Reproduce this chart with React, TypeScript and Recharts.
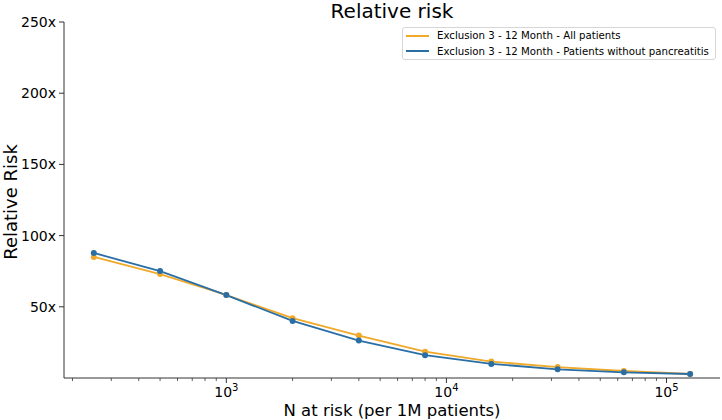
import { LineChart, Line, XAxis, YAxis, Label } from "recharts"

const nAtRisk = [250, 500, 1000, 2000, 4000, 8000, 16000, 32000, 64000, 128000]
const allPatients = [85.0, 73.0, 58.3, 42.0, 29.8, 18.5, 11.5, 7.7, 4.9, 2.8]
const withoutPancreatitis = [87.8, 75.1, 58.2, 40.1, 26.3, 16.0, 9.9, 6.1, 4.0, 2.8]

const majorTicks = [1000, 10000, 100000]
const minorTicks = [
  200, 300, 400, 500, 600, 700, 800, 900,
  2000, 3000, 4000, 5000, 6000, 7000, 8000, 9000,
  20000, 30000, 40000, 50000, 60000, 70000, 80000, 90000,
]
const yTicks = [50, 100, 150, 200, 250]

const data = nAtRisk.map((n, i) => ({
  n,
  all: allPatients[i],
  noPanc: withoutPancreatitis[i],
}))

const FONT = "'DejaVu Sans', sans-serif"
const ORANGE = "#f0a928"
const BLUE = "#2a6ea6"
const SPINE = "#333"

function XTick(props: any) {
  const { x, y, payload } = props
  const major = majorTicks.includes(payload.value)
  const exp = Math.round(Math.log10(payload.value))
  return (
    <g>
      <line x1={x} x2={x} y1={y} y2={y + (major ? 5 : 3)} stroke={SPINE} strokeWidth={major ? 1 : 0.8} />
      {major && (
        <text x={x} y={y + 19} textAnchor="middle" fontSize={14} fill="#000" fontFamily={FONT}>
          10<tspan dy={-6} fontSize={10}>{exp}</tspan>
        </text>
      )}
    </g>
  )
}

export default function App() {
  const xTickValues = [...minorTicks, ...majorTicks].sort((a, b) => a - b)
  return (
    <div style={{ position: "absolute", left: 0, top: 0, width: 722, height: 420, background: "#fff", fontFamily: FONT }}>
      <div style={{ position: "absolute", left: 64, top: 1, width: 656, textAlign: "center", fontSize: 20, lineHeight: "20px", color: "#000" }}>
        Relative risk
      </div>
      <LineChart width={722} height={420} data={data} margin={{ top: 22, right: 2, left: 0, bottom: 0 }}>
        <XAxis
          dataKey="n"
          type="number"
          scale="log"
          domain={[183, 175000]}
          ticks={xTickValues}
          interval={0}
          tickSize={0}
          tickMargin={0}
          tickLine={false}
          tick={(p: any) => <XTick {...p} />}
          axisLine={{ stroke: SPINE }}
          height={42}
        >
          <Label
            content={() => (
              <text x={392} y={416} textAnchor="middle" fontSize={16.5} fill="#000" fontFamily={FONT}>
                N at risk (per 1M patients)
              </text>
            )}
          />
        </XAxis>
        <XAxis
          xAxisId="top"
          orientation="top"
          dataKey="n"
          type="number"
          scale="log"
          domain={[183, 175000]}
          tick={false}
          tickLine={false}
          axisLine={{ stroke: SPINE }}
          height={0}
        />
        <YAxis
          type="number"
          domain={[0, 250]}
          ticks={yTicks}
          tickFormatter={(v: number) => `${v}x`}
          tick={{ fontSize: 14, fill: "#000", fontFamily: FONT }}
          tickSize={5}
          tickMargin={3}
          tickLine={{ stroke: SPINE }}
          axisLine={{ stroke: SPINE }}
          width={64}
        >
          <Label
            content={() => (
              <text
                x={17}
                y={202}
                transform="rotate(-90 17 202)"
                textAnchor="middle"
                fontSize={18}
                fill="#000"
                fontFamily={FONT}
              >
                Relative Risk
              </text>
            )}
          />
        </YAxis>
        <YAxis
          yAxisId="right"
          orientation="right"
          type="number"
          domain={[0, 250]}
          tick={false}
          tickLine={false}
          axisLine={{ stroke: SPINE }}
          width={0}
        />
        <Line
          dataKey="all"
          stroke={ORANGE}
          strokeWidth={1.8}
          dot={{ r: 3, fill: ORANGE, stroke: ORANGE, strokeWidth: 0 }}
          isAnimationActive={false}
        />
        <Line
          dataKey="noPanc"
          stroke={BLUE}
          strokeWidth={1.8}
          dot={{ r: 3, fill: BLUE, stroke: BLUE, strokeWidth: 0 }}
          isAnimationActive={false}
        />
      </LineChart>
      <div
        style={{
          position: "absolute",
          left: 402,
          top: 27,
          width: 314,
          height: 33,
          boxSizing: "border-box",
          border: "1px solid #d6d6d6",
          borderRadius: 3,
          background: "rgba(255,255,255,0.8)",
          fontSize: 10.2,
          color: "#000",
        }}
      >
        {[
          { name: "Exclusion 3 - 12 Month - All patients", color: ORANGE },
          { name: "Exclusion 3 - 12 Month - Patients without pancreatitis", color: BLUE },
        ].map((item) => (
          <div key={item.name} style={{ display: "flex", alignItems: "center", height: 15.5, paddingLeft: 3 }}>
            <span style={{ display: "inline-block", width: 23, height: 2, background: item.color, marginRight: 8 }} />
            <span style={{ whiteSpace: "nowrap" }}>{item.name}</span>
          </div>
        ))}
      </div>
    </div>
  )
}
